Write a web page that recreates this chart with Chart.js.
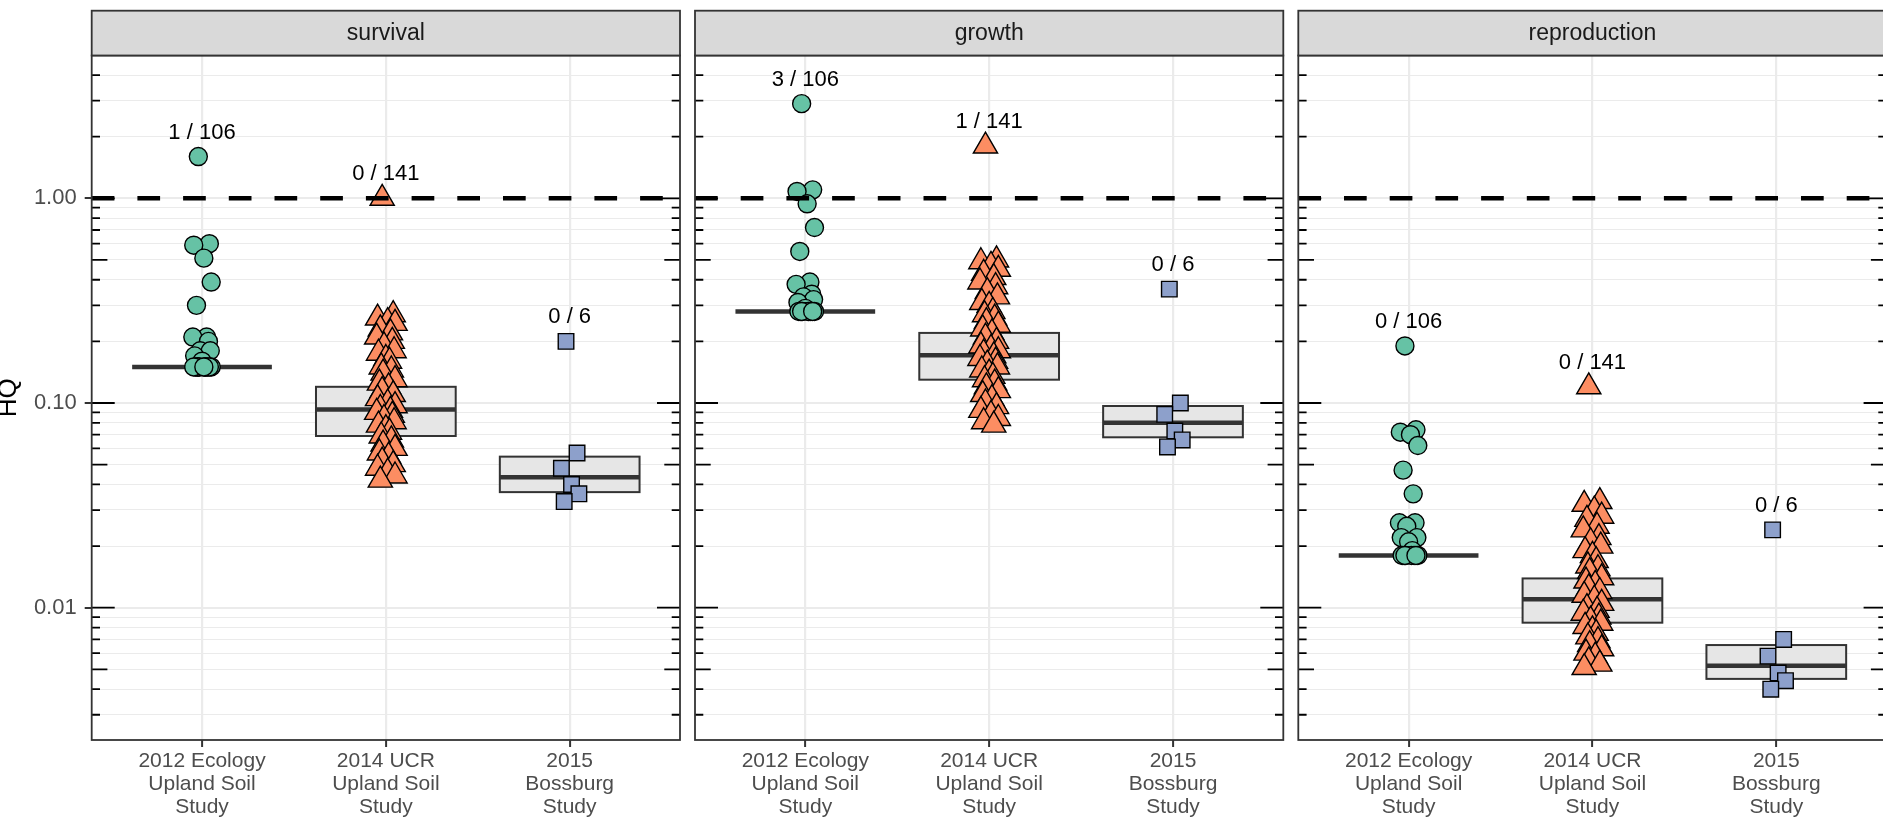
<!DOCTYPE html>
<html>
<head>
<meta charset="utf-8">
<script src="https://cdn.jsdelivr.net/npm/chart.js@4.4.0/dist/chart.umd.min.js"></script>
<style>
  html, body { margin: 0; padding: 0; background: #ffffff; overflow: hidden; width: 1883px; height: 831px; }
  canvas { position: absolute; left: 0; top: 0; }
</style>
</head>
<body>
<canvas id="c0" width="1890" height="831"></canvas>
<canvas id="c1" width="1890" height="831"></canvas>
<canvas id="c2" width="1890" height="831"></canvas>
<script>
// ---------------- DATA ----------------
const panelNames = ['survival', 'growth', 'reproduction'];
const studyLabels = [
  ['2012 Ecology', 'Upland Soil', 'Study'],
  ['2014 UCR', 'Upland Soil', 'Study'],
  ['2015', 'Bossburg', 'Study']
];
const yTickValues = [0.01, 0.1, 1];
const yTickLabels = ['0.01', '0.10', '1.00'];
const thresholdHQ = 1;

// survival
const survivalEcology = [1.6, 0.60, 0.59, 0.51, 0.39, 0.30, 0.21, 0.21, 0.20, 0.18, 0.18, 0.17, 0.16,
  0.15, 0.15, 0.15, 0.15, 0.15, 0.15, 0.15, 0.15, 0.15, 0.15, 0.15];
const survivalUCR = [1.0, 0.27, 0.26, 0.25, 0.245, 0.23, 0.22, 0.21, 0.20, 0.19, 0.18, 0.175, 0.165, 0.16,
  0.15, 0.145, 0.14, 0.13, 0.125, 0.12, 0.115, 0.11, 0.105, 0.10, 0.097, 0.094, 0.092, 0.09, 0.087, 0.084,
  0.081, 0.078, 0.075, 0.072, 0.069, 0.066, 0.063, 0.06, 0.057, 0.055, 0.052, 0.05, 0.048, 0.046, 0.044, 0.042];
const survivalBossburg = [0.20, 0.057, 0.048, 0.040, 0.036, 0.033];
const survivalBoxQ1 = [0.15, 0.069, 0.0367];
const survivalBoxMedian = [0.15, 0.093, 0.0434];
const survivalBoxQ3 = [0.15, 0.120, 0.0547];
const survivalExceed = ['1 / 106', '0 / 141', '0 / 6'];

// growth
const growthEcology = [2.9, 1.10, 1.08, 0.94, 0.72, 0.55, 0.39, 0.38, 0.34, 0.33, 0.32, 0.31, 0.29,
  0.28, 0.28, 0.28, 0.28, 0.28, 0.28, 0.28, 0.28, 0.28];
const growthUCR = [1.8, 0.50, 0.49, 0.47, 0.45, 0.43, 0.41, 0.39, 0.37, 0.35, 0.33, 0.31, 0.30, 0.28, 0.27,
  0.26, 0.25, 0.24, 0.23, 0.22, 0.21, 0.20, 0.19, 0.185, 0.18, 0.175, 0.17, 0.165, 0.16, 0.155, 0.15, 0.145,
  0.14, 0.135, 0.13, 0.125, 0.12, 0.115, 0.11, 0.105, 0.10, 0.096, 0.092, 0.088, 0.084, 0.081, 0.078];
const growthBossburg = [0.36, 0.10, 0.088, 0.073, 0.066, 0.061];
const growthBoxQ1 = [0.28, 0.13, 0.068];
const growthBoxMedian = [0.28, 0.171, 0.080];
const growthBoxQ3 = [0.28, 0.22, 0.0967];
const growthExceed = ['3 / 106', '1 / 141', '0 / 6'];

// reproduction
const reproductionEcology = [0.19, 0.074, 0.072, 0.070, 0.062, 0.047, 0.036, 0.026, 0.026, 0.025, 0.022,
  0.022, 0.021, 0.019, 0.018, 0.018, 0.018, 0.018, 0.018, 0.018, 0.018, 0.018];
const reproductionUCR = [0.12, 0.033, 0.032, 0.030, 0.028, 0.027, 0.025, 0.024, 0.022, 0.021, 0.020, 0.019,
  0.018, 0.017, 0.016, 0.0155, 0.015, 0.014, 0.0135, 0.013, 0.0125, 0.012, 0.0115, 0.011, 0.0105, 0.010,
  0.0097, 0.0094, 0.009, 0.0087, 0.0084, 0.0081, 0.0078, 0.0075, 0.0072, 0.0069, 0.0066, 0.0063, 0.006,
  0.0058, 0.0055, 0.0053, 0.0051];
const reproductionBossburg = [0.024, 0.0070, 0.0058, 0.0048, 0.0044, 0.0040];
const reproductionBoxQ1 = [0.018, 0.00845, 0.00449];
const reproductionBoxMedian = [0.018, 0.011, 0.00521];
const reproductionBoxQ3 = [0.018, 0.0139, 0.00657];
const reproductionExceed = ['0 / 106', '0 / 141', '0 / 6'];

// ---------------- ASSEMBLY ----------------
const panelValues = [
  [survivalEcology, survivalUCR, survivalBossburg],
  [growthEcology, growthUCR, growthBossburg],
  [reproductionEcology, reproductionUCR, reproductionBossburg]
];
const panelQ1 = [survivalBoxQ1, growthBoxQ1, reproductionBoxQ1];
const panelMed = [survivalBoxMedian, growthBoxMedian, reproductionBoxMedian];
const panelQ3 = [survivalBoxQ3, growthBoxQ3, reproductionBoxQ3];
const panelExceed = [survivalExceed, growthExceed, reproductionExceed];

// ---------------- STYLE / LAYOUT ----------------
const FONT = "'Liberation Sans', Arial, Helvetica, sans-serif";
const CW = 1890, CH = 831;
const PANEL_LEFT = [91.7, 695.0, 1298.3];
const PANEL_W = 588.3;
const PANEL_TOP = 55.5, PANEL_BOTTOM = 740, STRIP_TOP = 10.7;
const Y_MIN = 0.002258, Y_MAX = 4.985;
const X_MIN = -0.6, X_MAX = 2.6;
const BOX_HALF = 0.38;
const colors = ['#66c2a5', '#fc8d62', '#8da0cb'];
const shapes = ['circle', 'triangle', 'rect'];
const radii = [9, 14, 11];
const jitterPattern = [-0.02, 0.04, -0.045, 0.01, 0.05, -0.03, 0.025, -0.05, 0.035, -0.01,
  0.045, -0.04, 0.0, 0.02, -0.025, 0.03, -0.015, 0.05, -0.035, 0.015];

// grid positions (2..9 x decades) for the log axis
const gridValues = [];
for (let e = -3; e <= 0; e++) {
  for (let k = 1; k <= 9; k++) {
    const v = k * Math.pow(10, e);
    if (v >= Y_MIN && v <= Y_MAX) gridValues.push(v);
  }
}
const isMajor = (v) => Math.abs(Math.log10(v) - Math.round(Math.log10(v))) < 1e-9;
const majorLabel = (v) => {
  for (let i = 0; i < yTickValues.length; i++) {
    if (Math.abs(v - yTickValues[i]) < 1e-12) return yTickLabels[i];
  }
  return '';
};

const decorPlugin = {
  id: 'decor',
  beforeDatasetsDraw(chart, args, opts) {
    const p = opts.panel;
    const ctx = chart.ctx, xs = chart.scales.x, ys = chart.scales.y;
    ctx.save();
    for (let j = 0; j < 3; j++) {
      const xl = xs.getPixelForValue(j - BOX_HALF), xr = xs.getPixelForValue(j + BOX_HALF);
      const yt = ys.getPixelForValue(panelQ3[p][j]);
      const yb = ys.getPixelForValue(panelQ1[p][j]);
      const ym = ys.getPixelForValue(panelMed[p][j]);
      if (yb - yt > 0.5) {
        ctx.fillStyle = '#e6e6e6';
        ctx.fillRect(xl, yt, xr - xl, yb - yt);
        ctx.strokeStyle = '#333333';
        ctx.lineWidth = 2;
        ctx.strokeRect(xl, yt, xr - xl, yb - yt);
      }
      ctx.strokeStyle = '#333333';
      ctx.lineWidth = 4.5;
      ctx.beginPath();
      ctx.moveTo(xl, ym);
      ctx.lineTo(xr, ym);
      ctx.stroke();
    }
    ctx.restore();
  },
  afterDatasetsDraw(chart, args, opts) {
    const p = opts.panel;
    const ctx = chart.ctx, xs = chart.scales.x, ys = chart.scales.y;
    const a = chart.chartArea;
    ctx.save();
    // log ticks inside the panel
    ctx.strokeStyle = '#000000';
    ctx.lineWidth = 1.8;
    for (let e = -3; e <= 0; e++) {
      for (let k = 1; k <= 9; k++) {
        const v = k * Math.pow(10, e);
        if (v < Y_MIN || v > Y_MAX) continue;
        const len = k === 1 ? 23 : (k === 5 ? 15.7 : 8.3);
        const py = ys.getPixelForValue(v);
        ctx.beginPath();
        ctx.moveTo(a.left, py); ctx.lineTo(a.left + len, py);
        ctx.moveTo(a.right - len, py); ctx.lineTo(a.right, py);
        ctx.stroke();
      }
    }
    // exceedance labels
    ctx.font = '22px ' + FONT;
    ctx.fillStyle = '#000000';
    ctx.textAlign = 'center';
    ctx.textBaseline = 'middle';
    for (let j = 0; j < 3; j++) {
      const vmax = Math.max.apply(null, panelValues[p][j]);
      ctx.fillText(panelExceed[p][j], xs.getPixelForValue(j), ys.getPixelForValue(vmax) - 24);
    }
    ctx.restore();
  },
  afterDraw(chart, args, opts) {
    const p = opts.panel;
    const ctx = chart.ctx;
    const a = chart.chartArea;
    ctx.save();
    // panel border
    ctx.strokeStyle = '#333333';
    ctx.lineWidth = 1.8;
    ctx.strokeRect(a.left, a.top, a.right - a.left, a.bottom - a.top);
    // strip
    ctx.fillStyle = '#d9d9d9';
    ctx.fillRect(a.left, STRIP_TOP, a.right - a.left, a.top - STRIP_TOP);
    ctx.strokeRect(a.left, STRIP_TOP, a.right - a.left, a.top - STRIP_TOP);
    ctx.fillStyle = '#1a1a1a';
    ctx.font = '23px ' + FONT;
    ctx.textAlign = 'center';
    ctx.textBaseline = 'middle';
    ctx.fillText(panelNames[p], (a.left + a.right) / 2, (STRIP_TOP + a.top) / 2 + 0.5);
    ctx.restore();
  }
};

function makeChart(p) {
  const first = p === 0;
  const datasets = [{
    label: 'HQ = 1',
    data: [{ x: X_MIN, y: thresholdHQ }, { x: X_MAX, y: thresholdHQ }],
    showLine: true,
    borderColor: '#000000',
    borderWidth: 4.5,
    borderDash: [22.7, 23],
    pointRadius: 0,
    order: 0
  }];
  for (let j = 0; j < 3; j++) {
    datasets.push({
      label: studyLabels[j].join(' '),
      data: panelValues[p][j].map((v, k) => ({ x: j + jitterPattern[k % jitterPattern.length], y: v })),
      pointStyle: shapes[j],
      pointRadius: radii[j],
      backgroundColor: colors[j],
      borderColor: '#000000',
      borderWidth: 1.4,
      showLine: false,
      order: 1
    });
  }
  const left = PANEL_LEFT[p];
  const right = left + PANEL_W;
  return new Chart(document.getElementById('c' + p), {
    type: 'scatter',
    data: { datasets },
    plugins: [decorPlugin],
    options: {
      responsive: false,
      animation: false,
      devicePixelRatio: 1,
      events: [],
      layout: {
        autoPadding: false,
        padding: { left: first ? 0 : left - 1, right: CW - right, top: PANEL_TOP, bottom: 0 }
      },
      plugins: {
        legend: { display: false },
        tooltip: { enabled: false },
        decor: { panel: p }
      },
      scales: {
        x: {
          type: 'linear',
          min: X_MIN, max: X_MAX,
          afterBuildTicks: (s) => { s.ticks = [0, 1, 2].map(v => ({ value: v })); },
          afterFit: (s) => { s.height = CH - PANEL_BOTTOM; },
          border: { display: false },
          grid: { color: '#ebebeb', lineWidth: 2.2, tickLength: 7, tickColor: '#333333', tickWidth: 2 },
          ticks: {
            autoSkip: false, maxRotation: 0, minRotation: 0, padding: 3.3,
            color: '#4d4d4d',
            font: { family: FONT, size: 21, lineHeight: 1.0857 },
            callback: (v) => studyLabels[v] || ''
          }
        },
        y: {
          type: 'logarithmic',
          min: Y_MIN, max: Y_MAX,
          afterBuildTicks: (s) => { s.ticks = gridValues.map(v => ({ value: v })); },
          afterFit: (s) => { s.width = first ? PANEL_LEFT[0] : 1; },
          border: { display: false },
          grid: {
            color: '#ebebeb',
            lineWidth: (c) => (c.tick && isMajor(c.tick.value)) ? 2.0 : 1.1,
            drawTicks: first,
            tickLength: 7,
            tickWidth: 2,
            tickColor: (c) => (c.tick && isMajor(c.tick.value)) ? '#333333' : 'rgba(0,0,0,0)'
          },
          ticks: {
            display: first,
            autoSkip: false,
            padding: 8,
            color: '#4d4d4d',
            font: { family: FONT, size: 22 },
            callback: (v) => majorLabel(v)
          },
          title: {
            display: first,
            text: 'HQ',
            color: '#000000',
            padding: 0,
            font: { family: FONT, size: 26, lineHeight: 0.66 }
          }
        }
      }
    }
  });
}

makeChart(0);
makeChart(1);
makeChart(2);
</script>
</body>
</html>
